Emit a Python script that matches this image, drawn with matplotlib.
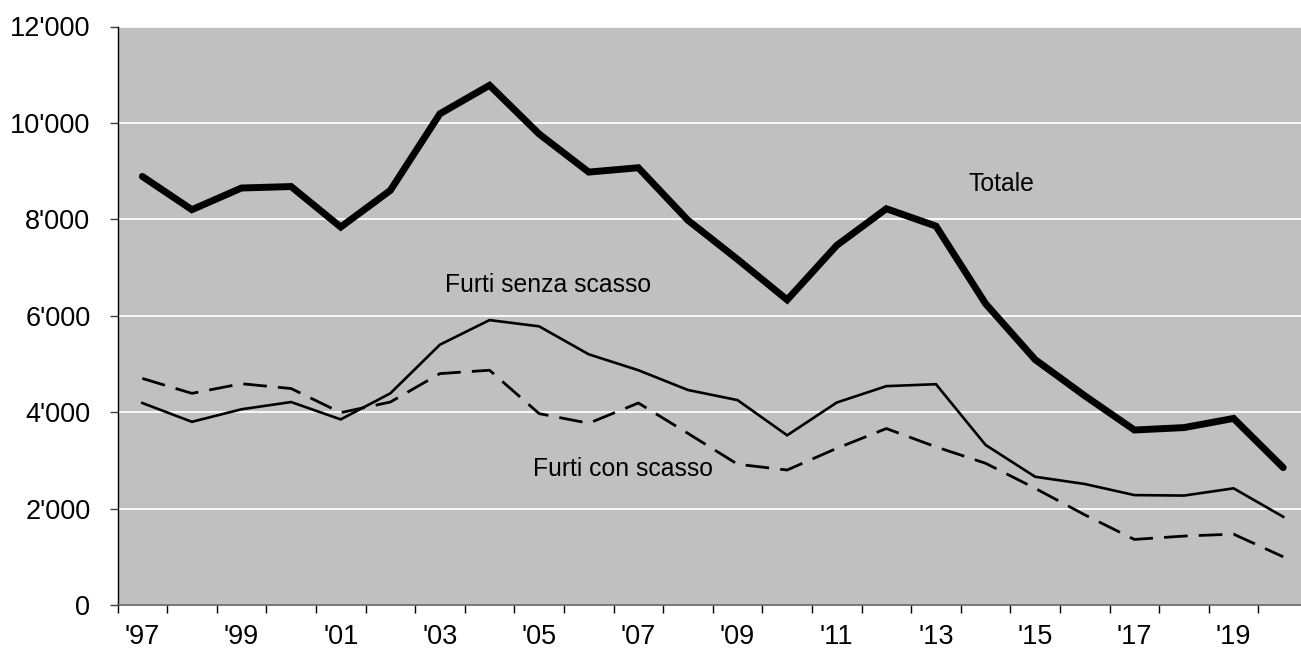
import matplotlib
matplotlib.use("Agg")
import matplotlib.pyplot as plt
import numpy as np

years = list(range(1997, 2021))
tick_labels = ["'97", "'99", "'01", "'03", "'05", "'07", "'09", "'11", "'13", "'15", "'17", "'19"]

totale = [8890, 8200, 8650, 8680, 7840, 8600, 10190, 10780, 9770, 8980, 9070, 7980,
          7170, 6330, 7460, 8220, 7860, 6250, 5090, 4340, 3630, 3680, 3870, 2850]
senza_scasso = [4190, 3800, 4060, 4210, 3850, 4390, 5400, 5910, 5780, 5200, 4870, 4460,
                4250, 3520, 4200, 4540, 4580, 3320, 2660, 2510, 2280, 2270, 2420, 1830]
con_scasso = [4700, 4390, 4590, 4490, 3990, 4210, 4800, 4870, 3970, 3770, 4190, 3560,
              2920, 2800, 3250, 3660, 3280, 2940, 2420, 1870, 1360, 1430, 1470, 1000]

plt.rcParams['font.family'] = ['Liberation Sans', 'DejaVu Sans']

fig = plt.figure(figsize=(13.01, 6.49), dpi=100)
ax = fig.add_axes([117.5 / 1301, 44 / 649, (1308 - 117.5) / 1301, (605 - 26.5) / 649])
ax.set_facecolor('#C0C0C0')

x = np.arange(len(years))
ax.plot(x, totale, color='black', lw=5.0, solid_capstyle='round', solid_joinstyle='miter', zorder=3)
ax.plot(x, senza_scasso, color='black', lw=1.9, solid_joinstyle='miter', zorder=3)
ax.plot(x, con_scasso, color='black', lw=2.0, dashes=(8.5, 4), dash_capstyle='butt', zorder=3)

ax.set_xlim(-0.5, len(years) - 0.5)
ax.set_ylim(0, 12000)

ax.set_yticks(np.arange(0, 12001, 2000))
ax.set_yticklabels([f"{v:,}".replace(",", "'") for v in range(0, 12001, 2000)], fontsize=19.5)
ax.yaxis.grid(True, color='white', lw=1.3)
ax.set_axisbelow(True)

ax.set_xticks(np.arange(-0.5, len(years), 1.0), minor=False)
ax.set_xticklabels([])
ax.set_xticks(np.arange(0, len(years), 2), minor=True)
ax.set_xticklabels(tick_labels, minor=True, fontsize=19.5)
ax.tick_params(axis='x', which='minor', length=0, pad=14)
ax.tick_params(axis='x', which='major', length=6, width=1, color='black', direction='out')
ax.tick_params(axis='y', length=6, width=1, color='#404040', direction='out', pad=13.5)

for s in ['top', 'right']:
    ax.spines[s].set_visible(False)
ax.spines['left'].set_color('black')
ax.spines['bottom'].set_color('#606060')
ax.spines['left'].set_linewidth(1)
ax.spines['bottom'].set_linewidth(1.2)

ax.text(16.66, 8590, 'Totale', fontsize=17.8, ha='left', va='baseline')
ax.text(6.10, 6500, 'Furti senza scasso', fontsize=17.8, ha='left', va='baseline')
ax.text(7.88, 2675, 'Furti con scasso', fontsize=17.8, ha='left', va='baseline')

fig.savefig('out.png', dpi=100)
